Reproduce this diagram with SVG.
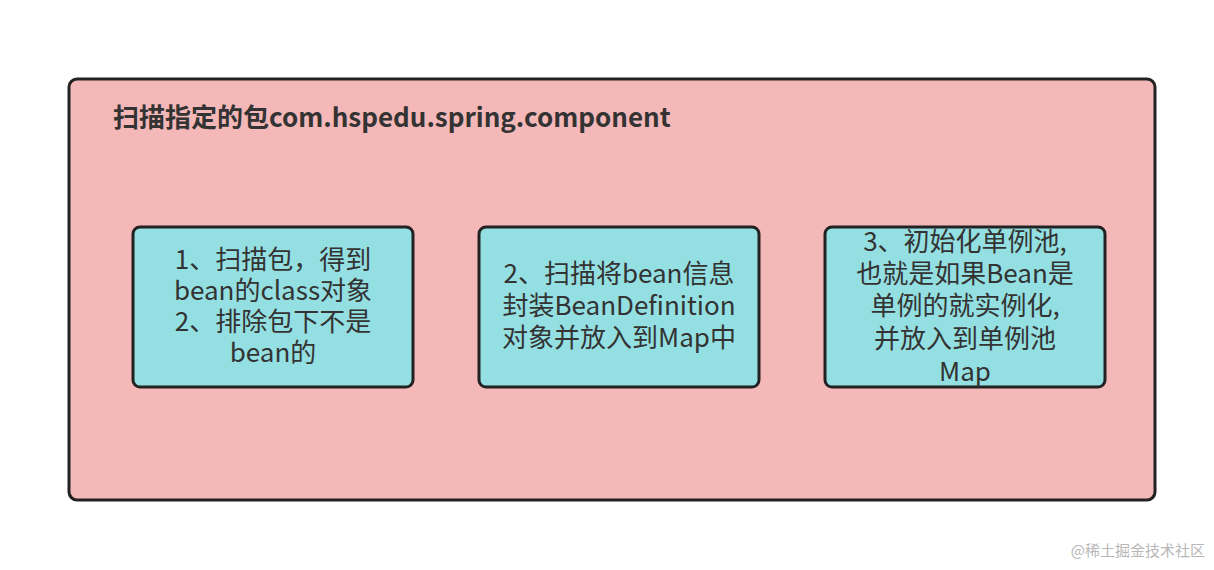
<svg xmlns="http://www.w3.org/2000/svg" width="1214" height="570" viewBox="0 0 1214 570">
<style>
.t{font-family:"Noto Sans CJK SC","Liberation Sans",sans-serif;font-size:26px;fill:#333;text-anchor:middle}
.box{fill:#94dfe1;stroke:#222;stroke-width:3}
.wm{font-family:"Noto Sans CJK SC",sans-serif;font-size:15px;fill:#999;opacity:0.7}
</style>
<rect width="1214" height="570" fill="#fff"/>
<g id="container">
<rect x="69" y="79" width="1086" height="421" rx="8" fill="#f5b8b8" stroke="#222" stroke-width="3"/>
<text x="113" y="127" font-family="Noto Sans CJK SC,Liberation Sans,sans-serif" font-size="26" font-weight="bold" fill="#333">扫描指定的包com.hspedu.spring.component</text>
</g>
<g id="node1">
<rect class="box" x="133" y="227" width="280" height="160" rx="7"/>
<text class="t" x="273" y="269">1、扫描包，得到</text>
<text class="t" x="273" y="300">bean的class对象</text>
<text class="t" x="273" y="331">2、排除包下不是</text>
<text class="t" x="273" y="362">bean的</text>
</g>
<g id="node2">
<rect class="box" x="479" y="227" width="280" height="160" rx="7"/>
<text class="t" x="619" y="283">2、扫描将bean信息</text>
<text class="t" x="619" y="315">封装BeanDefinition</text>
<text class="t" x="619" y="347">对象并放入到Map中</text>
</g>
<g id="node3">
<rect class="box" x="825" y="227" width="280" height="160" rx="7"/>
<text class="t" x="965" y="251">3、初始化单例池,</text>
<text class="t" x="965" y="283">也就是如果Bean是</text>
<text class="t" x="965" y="315">单例的就实例化,</text>
<text class="t" x="965" y="348">并放入到单例池</text>
<text class="t" x="965" y="381">Map</text>
</g>
<g id="connectors"></g>
<text class="wm" x="1205" y="556" text-anchor="end">@稀土掘金技术社区</text>
</svg>
